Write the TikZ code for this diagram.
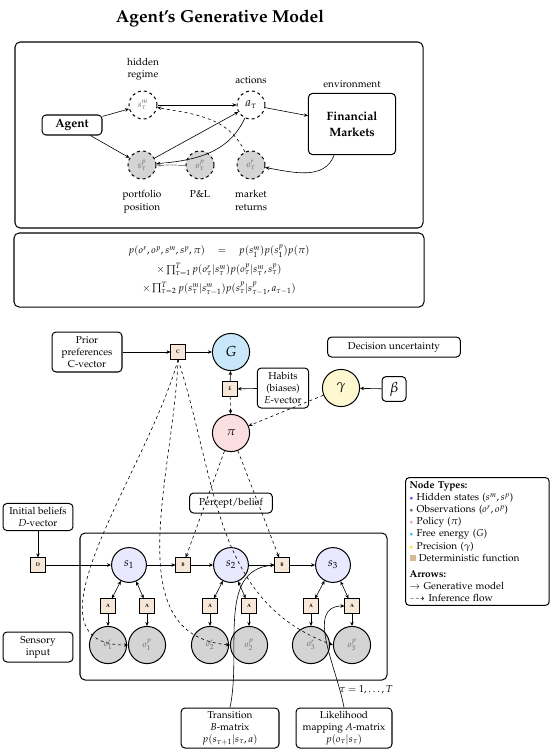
\documentclass[tikz,border=0pt]{standalone}
\usepackage[T1]{fontenc}
\usepackage{mathpazo}
\usepackage{amsmath,amssymb}
\usetikzlibrary{positioning, arrows.meta}

\definecolor{hidfill}{RGB}{232,232,255}
\definecolor{obsfill}{RGB}{212,212,212}
\definecolor{polfill}{RGB}{251,222,224}
\definecolor{efefill}{RGB}{200,232,250}
\definecolor{precfill}{RGB}{253,248,208}
\definecolor{funfill}{RGB}{246,231,216}
\definecolor{hidkey}{RGB}{90,90,240}
\definecolor{obskey}{RGB}{110,110,110}
\definecolor{polkey}{RGB}{245,160,165}
\definecolor{efekey}{RGB}{70,190,240}
\definecolor{preckey}{RGB}{245,230,40}
\definecolor{funkey}{RGB}{214,186,152}

\begin{document}
\begin{tikzpicture}[x=0.035cm, y=0.035cm,
    >={Stealth[length=4pt,width=3.5pt]},
    panel/.style={draw, line width=1pt, rounded corners=5pt},
    box/.style={draw, line width=1pt, rounded corners=4pt, align=center, inner sep=2pt},
    topnode/.style={circle, draw, dashed, line width=1pt, minimum size=0.98cm, inner sep=0pt},
    hid/.style={circle, draw, line width=1pt, fill=hidfill, minimum size=1.22cm, inner sep=0pt, font=\large},
    obs/.style={circle, draw, line width=1pt, fill=obsfill, minimum size=1.3cm, inner sep=0pt, font=\small, text=black!60},
    func/.style={draw, line width=0.8pt, fill=funfill, minimum size=0.5cm, inner sep=0pt,
      font=\fontsize{5}{6}\selectfont\bfseries},
    flow/.style={->, line width=0.6pt},
    infer/.style={->, dashed, line width=0.6pt},
    lbl/.style={align=center, inner sep=1pt},
  ]
    \useasboundingbox (0,0) rectangle (550,-753);

    % title
    \node[font=\LARGE\bfseries] (title) at (220,-18) {Agent's Generative Model};

    % top panel: agent and market
    \draw[panel] (15,-42) rectangle (423,-228);
    \node[box, font=\large\bfseries, minimum width=2.1cm, minimum height=0.7cm] (agent) at (72,-125) {Agent};
    \node[topnode] (sm) at (143,-105) {\small\color{black!60}$s^m_\tau$};
    \node[topnode, font=\large] (at) at (251,-105) {$a_\tau$};
    \node[box, font=\large\bfseries, minimum width=3.05cm, minimum height=2.14cm] (fm) at (352,-124) {Financial\\[2pt]Markets};
    \node[topnode, fill=obsfill] (sp) at (142,-165) {\small\color{black!60}$s^p_\tau$};
    \node[topnode, fill=obsfill] (op) at (200,-165) {\small\color{black!60}$o^p_\tau$};
    \node[topnode, fill=obsfill] (or) at (251,-165) {\small\color{black!60}$o^r_\tau$};
    \node[lbl, above=0.3cm of sm] (smlab) {hidden\\regime};
    \node[lbl, above=0.2cm of at] (atlab) {actions};
    \node[lbl, above=0.15cm of fm] (fmlab) {environment};
    \node[lbl, below=0.35cm of sp] (splab) {portfolio\\position};
    \node[lbl, below=0.35cm of op] (oplab) {P\&L};
    \node[lbl, below=0.35cm of or] (orlab) {market\\returns};

    \draw[flow] (agent) -- (sm);
    \draw[flow] (agent) -- (sp);
    \draw[flow] (sm) -- (at);
    \draw[flow] (sp) -- (at);
    \draw[flow] (at) to[out=-115, in=5] (sp);
    \draw[->, line width=0.5pt, black!45] (op) -- node[fill=white, inner sep=0.5pt, font=\fontsize{4}{5}\selectfont] {inform} (sp);
    \draw[flow] (at) -- (fm);
    \draw[flow] (fm.-120) to[out=-110, in=-10] (or);
    \draw[infer] (or) to[out=115, in=-10] (sm);

    % joint distribution
    \draw[panel] (14,-233) rectangle (424,-307);
    \node[align=center] (joint) at (219,-270) {%
      $p(o^r, o^p, s^m, s^p, \pi) \quad=\quad p(s^m_1)p(s^p_1)p(\pi)$\\[5pt]
      $\times\prod_{\tau=1}^{T} p(o^r_\tau|s^m_\tau)p(o^p_\tau|s^m_\tau, s^p_\tau)$\\[5pt]
      $\times\prod_{\tau=2}^{T} p(s^m_\tau|s^m_{\tau-1})p(s^p_\tau|s^p_{\tau-1}, a_{\tau-1})$};

    % policy part
    \node[box, minimum width=2.45cm, minimum height=1.4cm] (prior) at (87,-352) {Prior\\preferences\\C-vector};
    \node[func] (C) at (178,-352) {C};
    \node[circle, draw, line width=1pt, fill=efefill, minimum size=1.3cm, font=\Large] (G) at (231,-352) {$G$};
    \node[func] (E) at (230,-389) {E};
    \node[box, minimum width=1.8cm, minimum height=1.4cm] (habits) at (283,-388) {Habits\\(biases)\\\textit{E}-vector};
    \node[circle, draw, line width=1pt, fill=precfill, minimum size=1.3cm, font=\Large] (gamma) at (341,-388) {$\gamma$};
    \node[box, minimum width=0.84cm, minimum height=0.87cm, font=\Large] (beta) at (394,-389) {$\beta$};
    \node[box, minimum width=4.65cm, minimum height=0.7cm] (decunc) at (394,-347) {Decision uncertainty};
    \node[circle, draw, line width=1pt, fill=polfill, minimum size=1.3cm, font=\large] (pi) at (231,-433) {$\pi$};
    \node[box, minimum width=2.9cm, minimum height=0.7cm] (percept) at (231,-503) {Percept/belief};

    \draw[flow] (prior) -- (C);
    \draw[flow] (C) -- (G);
    \draw[flow] (habits) -- (E);
    \draw[flow] (E) -- (G);
    \draw[infer] (E) -- (pi);
    \draw[flow] (beta) -- (gamma);
    \draw[infer] (gamma) -- (pi);

    % states over time
    \node[box, minimum width=2.45cm, minimum height=0.95cm] (init) at (38,-517) {Initial beliefs\\\textit{D}-vector};
    \node[func] (D) at (38,-565) {D};
    \draw[panel] (80,-533) rectangle (387,-680);
    \node[hid] (s1) at (129,-565) {$s_1$};
    \node[func] (B1) at (183,-565) {B};
    \node[hid] (s2) at (231,-565) {$s_2$};
    \node[func] (B2) at (282,-565) {B};
    \node[hid] (s3) at (333,-565) {$s_3$};

    \node[func] (A1r) at (108,-606) {A};
    \node[func] (A1p) at (147,-606) {A};
    \node[func] (A2r) at (210,-606) {A};
    \node[func] (A2p) at (249,-606) {A};
    \node[func] (A3r) at (311,-606) {A};
    \node[func] (A3p) at (352,-606) {A};

    \node[obs] (o1r) at (108,-645) {$o^r_1$};
    \node[obs] (o1p) at (147,-645) {$o^p_1$};
    \node[obs] (o2r) at (210,-645) {$o^r_2$};
    \node[obs] (o2p) at (249,-645) {$o^p_2$};
    \node[obs] (o3r) at (311,-645) {$o^r_3$};
    \node[obs] (o3p) at (352,-645) {$o^p_3$};

    \node[box, minimum width=2.45cm, minimum height=1.05cm] (sensory) at (38,-647) {Sensory\\input};

    \draw[flow] (init) -- (D);
    \draw[flow] (D) -- (s1);
    \draw[flow] (s1) -- (B1);
    \draw[flow] (B1) -- (s2);
    \draw[flow] (s2) -- (B2);
    \draw[flow] (B2) -- (s3);

    \draw[<->, line width=0.6pt] (s1) -- (A1r);
    \draw[<->, line width=0.6pt] (s1) -- (A1p);
    \draw[<->, line width=0.6pt] (s2) -- (A2r);
    \draw[<->, line width=0.6pt] (s2) -- (A2p);
    \draw[<->, line width=0.6pt] (s3) -- (A3r);
    \draw[<->, line width=0.6pt] (s3) -- (A3p);
    \draw[flow] (A1r) -- (o1r);
    \draw[flow] (A1p) -- (o1p);
    \draw[flow] (A2r) -- (o2r);
    \draw[flow] (A2p) -- (o2p);
    \draw[flow] (A3r) -- (o3r);
    \draw[flow] (A3p) -- (o3p);

    % inference flow
    \draw[infer] (C.south) to[out=-105, in=180] (o1p.west);
    \draw[infer] (C.south) to[out=-92, in=175] (o2p.west);
    \draw[infer] (C.south) to[out=-72, in=160] (o3p.west);
    \draw[infer] (pi) -- (B1);
    \draw[infer] (pi) -- (B2);

    % matrices
    \node[box, minimum width=3.43cm, minimum height=1.4cm] (trans) at (230,-728) {Transition\\\textit{B}-matrix\\$p(s_{\tau+1}|s_\tau, a)$};
    \node[box, minimum width=3.36cm, minimum height=1.4cm] (lik) at (344,-728) {Likelihood\\mapping \textit{A}-matrix\\$p(o_\tau|s_\tau)$};
    \node (trange) at (366,-690) {$\tau = 1, \ldots, T$};
    \draw[flow] (trans.north) to[out=78, in=185] (B2.west);
    \draw[flow] (lik.north) to[out=100, in=180] (A3p.west);

    % legend
    \node[box, align=left, text width=4.75cm, inner sep=4pt, anchor=north west] (key) at (405,-477) {%
      \textbf{Node Types:}\\
      {\color{hidkey}\scriptsize$\bullet$} Hidden states ($s^m, s^p$)\\
      {\color{obskey}\scriptsize$\bullet$} Observations ($o^r, o^p$)\\
      {\color{polkey}\scriptsize$\bullet$} Policy ($\pi$)\\
      {\color{efekey}\scriptsize$\bullet$} Free energy ($G$)\\
      {\color{preckey}\scriptsize$\bullet$} Precision ($\gamma$)\\
      {\color{funkey}\rule{6pt}{6pt}} Deterministic function\\[4pt]
      \textbf{Arrows:}\\
      $\rightarrow$ Generative model\\
      $\dashrightarrow$ Inference flow};
  \end{tikzpicture}
\end{document}
